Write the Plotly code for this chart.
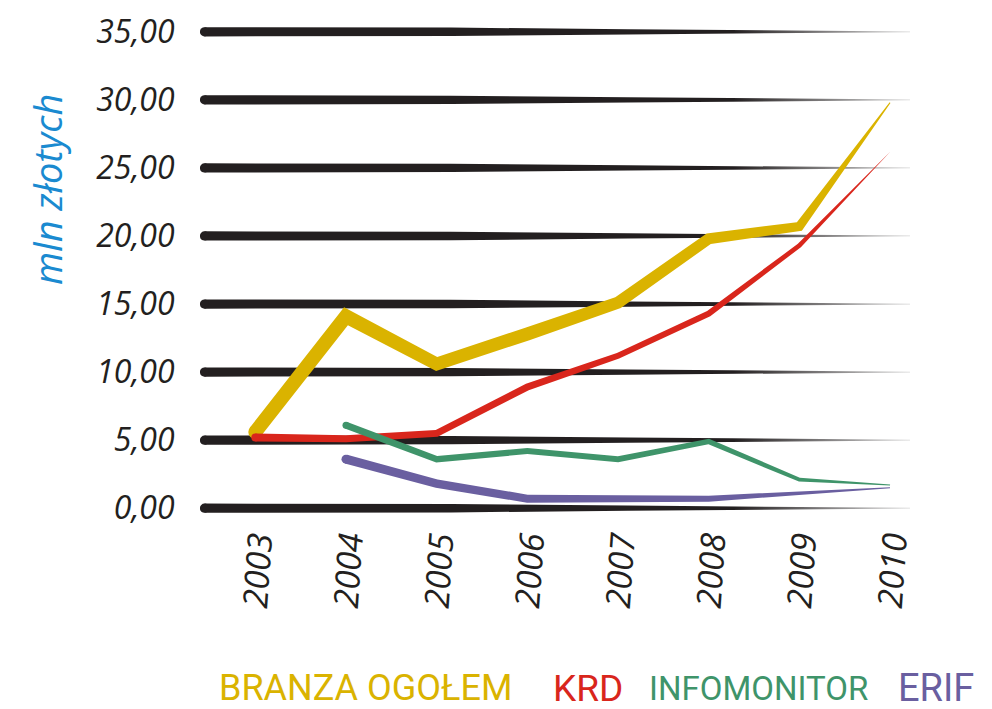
import numpy as np
import plotly.graph_objects as go

years = [2003, 2004, 2005, 2006, 2007, 2008, 2009, 2010]
branza = [5.6, 14.1, 10.6, 12.8, 15.1, 19.8, 20.7, 29.8]
krd = [5.2, 5.1, 5.5, 8.9, 11.2, 14.3, 19.3, 26.2]
info_years = [2004, 2005, 2006, 2007, 2008, 2009, 2010]
infomonitor = [6.1, 3.6, 4.2, 3.6, 4.9, 2.1, 1.7]
erif = [3.6, 1.8, 0.7, 0.7, 0.7, 1.1, 1.5]
yticks = [0, 5, 10, 15, 20, 25, 30, 35]
ytick_text = ["0,00", "5,00", "10,00", "15,00", "20,00", "25,00", "30,00", "35,00"]
legend_names = ["BRANZA OGOŁEM", "KRD", "INFOMONITOR", "ERIF"]
colors = ["#dab300", "#d9261c", "#3f946a", "#6a5fa0"]

# plot geometry (page has an 8px body margin)
OFF = 8
W, H = 992 - OFF, 709 - OFF
ML, MR, MT, MB = 200 - OFF, 82, 25 - OFF, 194
XR = [2002.39, 2010.22]
YR = [-0.5, 35.5]
pw, ph = W - ML - MR, H - MT - MB
sx = pw / (XR[1] - XR[0])
sy = ph / (YR[1] - YR[0])


def ribbon(xs, ys, widths):
    """Tapered ribbon polygon around a polyline; widths in pixels."""
    P = np.column_stack([np.array(xs, float) * sx, np.array(ys, float) * sy])
    n = len(P)
    normals = []
    for i in range(n - 1):
        d = P[i + 1] - P[i]
        d = d / np.linalg.norm(d)
        normals.append(np.array([-d[1], d[0]]))
    up, dn = [], []
    for i in range(n):
        if i == 0:
            nv = normals[0]
            scale = 1
        elif i == n - 1:
            nv = normals[-1]
            scale = 1
        else:
            nv = normals[i - 1] + normals[i]
            nv = nv / np.linalg.norm(nv)
            scale = 1 / max(np.dot(nv, normals[i]), 0.3)
        off = nv * widths[i] / 2 * scale
        up.append(P[i] + off)
        dn.append(P[i] - off)
    poly = np.array(up + dn[::-1] + [up[0]])
    return poly[:, 0] / sx, poly[:, 1] / sy


fig = go.Figure()

# tapered gridlines
grid_col = "#231f20"
gx0 = XR[0] + 4.5 / sx
gx1 = XR[1]
fr = np.array([0, 0.35, 0.6, 0.8, 1.0])
hw = np.array([4.6, 4.2, 2.6, 1.2, 0.4])
for v in yticks:
    gx = gx0 + fr * (gx1 - gx0)
    px = np.concatenate([gx, gx[::-1], gx[:1]])
    py = np.concatenate([v + hw / sy, (v - hw / sy)[::-1], [v + hw[0] / sy]])
    fig.add_trace(go.Scatter(
        x=px, y=py, mode="lines", fill="toself", line=dict(width=0),
        fillgradient=dict(type="horizontal",
                          colorscale=[[0, grid_col], [0.75, grid_col], [1, "#d8d8d8"]]),
        hoverinfo="skip", showlegend=False))
    fig.add_trace(go.Scatter(x=[gx0], y=[v], mode="markers",
                             marker=dict(size=9.2, color=grid_col),
                             hoverinfo="skip", showlegend=False))

series = [
    (years, branza, [14, 14, 13, 13, 12, 11, 9, 1], colors[0], legend_names[0]),
    (years, krd, [8, 7, 7, 7, 6, 6, 4.5, 0.5], colors[1], legend_names[1]),
    (info_years, infomonitor, [7, 6.5, 6, 6, 5.5, 4, 1], colors[2], legend_names[2]),
    (info_years, erif, [9, 8.5, 8, 7, 6, 3.5, 1], colors[3], legend_names[3]),
]
for xs, ys, ws, col, name in series:
    rx, ry = ribbon(xs, ys, ws)
    fig.add_trace(go.Scatter(x=rx, y=ry, mode="lines", fill="toself",
                             fillcolor=col, line=dict(width=0, color=col),
                             name=name, hoverinfo="skip", showlegend=False))
    fig.add_trace(go.Scatter(x=[xs[0]], y=[ys[0]], mode="markers",
                             marker=dict(size=ws[0], color=col),
                             hoverinfo="skip", showlegend=False))

fig.update_layout(
    width=W, height=H,
    margin=dict(l=ML, r=MR, t=MT, b=MB),
    paper_bgcolor="white", plot_bgcolor="white",
    showlegend=False,
    font=dict(family="Open Sans", color="#231f20"),
    xaxis=dict(range=XR, tickvals=years, ticktext=[str(y) for y in years],
               tickangle=-86, showgrid=False, zeroline=False, showline=False,
               automargin=False,
               ticks="", tickfont=dict(size=34, style="italic", color="#231f20")),
    yaxis=dict(range=YR, tickvals=yticks, ticktext=ytick_text,
               showgrid=False, zeroline=False, showline=False,
               automargin=False,
               ticks="outside", ticklen=18, tickcolor="rgba(0,0,0,0)",
               tickfont=dict(size=32, style="italic", color="#231f20")),
)

# page-pixel helpers
def paper_x(px_page):
    return (px_page - OFF - ML) / pw


def paper_y(py_page):
    return (H - MB - (py_page - OFF)) / ph


fig.add_annotation(text="mln złotych", xref="paper", yref="paper",
                   x=paper_x(47), y=paper_y(190), textangle=-90,
                   showarrow=False, xanchor="center", yanchor="middle",
                   font=dict(size=38, color="#1a8ad0", style="italic"))

leg_x = [365, 588, 758, 936]
leg_size = [36, 37, 33, 38]
for name, col, lx, fs in zip(legend_names, colors, leg_x, leg_size):
    fig.add_annotation(text=name, xref="paper", yref="paper",
                       x=paper_x(lx), y=paper_y(688),
                       showarrow=False, xanchor="center", yanchor="middle",
                       font=dict(size=fs, color=col, family="Roboto"))

fig.write_html("out.html")
